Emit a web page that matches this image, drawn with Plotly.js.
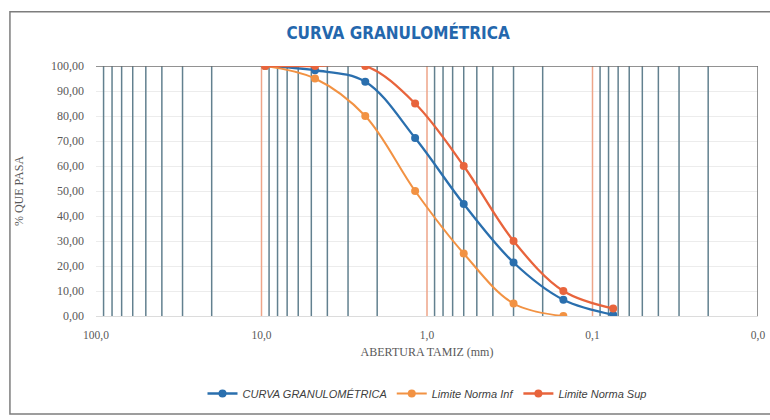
<!DOCTYPE html>
<html>
<head>
<meta charset="utf-8">
<script src="https://cdn.plot.ly/plotly-3.0.1.min.js"></script>
<style>html,body{margin:0;padding:0;background:#fff;}#chart{width:770px;height:420px;}</style>
</head>
<body>
<div id="chart"></div>
<script>
// Sieve openings (mm)
const sieves = [9.5, 4.75, 2.36, 1.18, 0.6, 0.3, 0.15, 0.075];
const curvaGranulometrica = [100, 98.3, 93.7, 71.2, 44.8, 21.4, 6.5, 0.5];
const sievesInf = [9.5, 4.75, 2.36, 1.18, 0.6, 0.3, 0.15];
const limiteInf = [100, 95, 80, 50, 25, 5, 0];
const limiteSup = [100, 100, 100, 85, 60, 30, 10, 3];
const xTickVals = [100, 10, 1, 0.1, 0.01];
const xTickText = ['100,0', '10,0', '1,0', '0,1', '0,0'];
const decades = [10, 1, 0.1, 0.01];
const minorMultipliers = [2, 3, 4, 5, 6, 7, 8, 9];
const majorLines = [10, 1, 0.1];

const serif = 'Liberation Serif, DejaVu Serif, serif';
const sans = 'Liberation Sans, Arial, sans-serif';

// gridline helper traces (vertical log grid)
const minorX = [], minorY = [];
decades.forEach(d => minorMultipliers.forEach(m => {
  minorX.push(m * d, m * d, null); minorY.push(0, 100, null);
}));
const majorX = [], majorY = [];
majorLines.forEach(v => { majorX.push(v, v, null); majorY.push(0, 100, null); });

const traces = [
  {x: minorX, y: minorY, mode: 'lines', line: {color: '#62808f', width: 1.5},
   showlegend: false, hoverinfo: 'skip'},
  {x: majorX, y: majorY, mode: 'lines', line: {color: '#eea589', width: 1.5},
   showlegend: false, hoverinfo: 'skip'},
  {x: [0.01, 0.01], y: [0, 100], mode: 'lines', line: {color: '#7a7a7a', width: 1.6},
   showlegend: false, hoverinfo: 'skip'},
  {x: [100, 0.01], y: [100, 100], mode: 'lines', line: {color: '#6e6e6e', width: 1.6},
   showlegend: false, hoverinfo: 'skip'},
  {x: sieves, y: curvaGranulometrica, name: 'CURVA GRANULOMÉTRICA', mode: 'lines+markers',
   line: {color: '#2a6fae', width: 2.3, shape: 'spline', smoothing: 1},
   marker: {color: '#2a6fae', size: 8}},
  {x: sievesInf, y: limiteInf, name: 'Limite Norma Inf', mode: 'lines+markers',
   line: {color: '#f29243', width: 2, shape: 'spline', smoothing: 1},
   marker: {color: '#f29243', size: 8}},
  {x: sieves, y: limiteSup, name: 'Limite Norma Sup', mode: 'lines+markers',
   line: {color: '#e8643c', width: 2.3, shape: 'spline', smoothing: 1},
   marker: {color: '#e8643c', size: 8}}
];

const layout = {
  width: 770, height: 420,
  margin: {l: 96, r: 12, t: 66, b: 102},
  paper_bgcolor: '#ffffff', plot_bgcolor: '#ffffff',
  separators: ', ',
  showlegend: true,
  title: {text: '<b>CURVA GRANULOMÉTRICA</b>', x: 0.517, xanchor: 'center',
          y: 0.922, yanchor: 'middle', yref: 'container',
          font: {family: 'DejaVu Sans Condensed, Liberation Sans Narrow, sans-serif', size: 17, color: '#2467ad'}},
  xaxis: {type: 'log', range: [2, -2], tickvals: xTickVals, ticktext: xTickText,
          showgrid: false, zeroline: false, showline: true, linecolor: '#dcdcdc', linewidth: 1,
          ticks: '', ticklabelstandoff: 8, tickfont: {family: serif, size: 11.5, color: '#595959'},
          title: {text: 'ABERTURA TAMIZ (mm)', standoff: 6, font: {family: serif, size: 12, color: '#595959'}}},
  yaxis: {range: [0, 100], dtick: 10, tickformat: '.2f', showgrid: true, gridcolor: '#ececec',
          zeroline: false, showline: false, ticks: '', ticklabelstandoff: 11,
          tickfont: {family: serif, size: 12, color: '#595959'},
          title: {text: '% QUE PASA', standoff: 24, font: {family: serif, size: 12, color: '#595959'}}},
  legend: {orientation: 'h', x: 0.5, xanchor: 'center', y: -0.31, yanchor: 'middle',
           font: {family: sans, size: 11, color: '#404040', style: 'italic'},
           itemwidth: 30},
  shapes: [
    {type: 'rect', xref: 'paper', yref: 'paper', x0: -0.13, x1: 1.03, y0: -0.392, y1: 1.217,
     line: {color: '#7d7d7d', width: 1.5}, fillcolor: 'rgba(0,0,0,0)', layer: 'below'}
  ]
};

Plotly.newPlot('chart', traces, layout, {displayModeBar: false, staticPlot: true});
</script>
</body>
</html>
